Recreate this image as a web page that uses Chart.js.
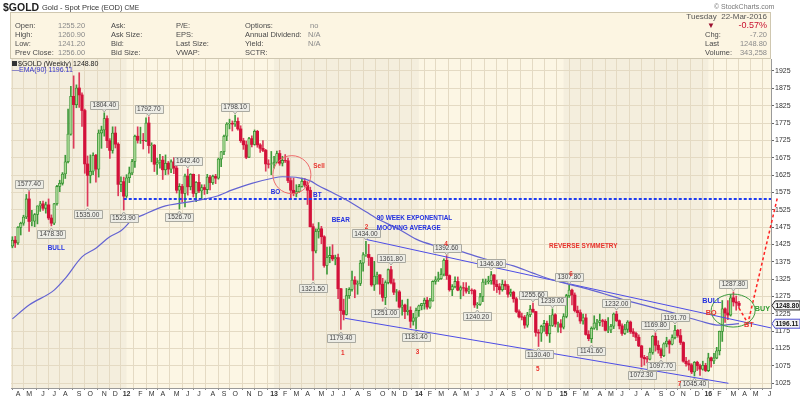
<!DOCTYPE html>
<html>
<head>
<meta charset="utf-8">
<script src="https://cdn.jsdelivr.net/npm/chart.js@4.4.1/dist/chart.umd.min.js"></script>
<style>
  html, body { margin: 0; padding: 0; background: #fff; }
  body { width: 800px; height: 399px; position: relative; overflow: hidden; font-family: "Liberation Sans", Arial, sans-serif; }
  #wrap { position: absolute; left: 0; top: 0; width: 800px; height: 399px; }
  .t { position: absolute; white-space: nowrap; font-size: 7.5px; line-height: 9px; color: #4a4a4a; }
  .v { color: #8a8a8a; }
  .r { text-align: right; }
  #hdr { position: absolute; left: 10px; top: 12px; width: 759px; height: 45px; background: #fcf5e2; border: 1px solid #cfc7b0; }
  .lg { position: absolute; white-space: nowrap; font-size: 7px; line-height: 8px; }
</style>
</head>
<body>
<div id="wrap"><canvas id="goldChart" width="800" height="399"></canvas></div>

<div id="hdr"></div>
<div class="t" style="left:3px;top:1px;font-size:10.5px;line-height:12px;font-weight:bold;color:#222">$GOLD</div>
<div class="t" style="left:42px;top:3px;color:#333">Gold - Spot Price (EOD) <span style="font-size:6.5px">CME</span></div>
<div class="t" style="left:714px;top:2px;font-size:7px;color:#777">&copy; StockCharts.com</div>

<div class="t" style="left:15px;top:21px">Open:</div>
<div class="t" style="left:15px;top:30px">High:</div>
<div class="t" style="left:15px;top:39px">Low:</div>
<div class="t" style="left:15px;top:48px">Prev Close:</div>
<div class="t v" style="left:58px;top:21px">1255.20</div>
<div class="t v" style="left:58px;top:30px">1260.90</div>
<div class="t v" style="left:58px;top:39px">1241.20</div>
<div class="t v" style="left:58px;top:48px">1256.00</div>
<div class="t" style="left:111px;top:21px">Ask:</div>
<div class="t" style="left:111px;top:30px">Ask Size:</div>
<div class="t" style="left:111px;top:39px">Bid:</div>
<div class="t" style="left:111px;top:48px">Bid Size:</div>
<div class="t" style="left:176px;top:21px">P/E:</div>
<div class="t" style="left:176px;top:30px">EPS:</div>
<div class="t" style="left:176px;top:39px">Last Size:</div>
<div class="t" style="left:176px;top:48px">VWAP:</div>
<div class="t" style="left:245px;top:21px">Options:</div>
<div class="t" style="left:245px;top:30px">Annual Dividend:</div>
<div class="t" style="left:245px;top:39px">Yield:</div>
<div class="t" style="left:245px;top:48px">SCTR:</div>
<div class="t v" style="left:310px;top:21px">no</div>
<div class="t v" style="left:308px;top:30px">N/A</div>
<div class="t v" style="left:308px;top:39px">N/A</div>

<div class="t r" style="right:33px;top:12px;font-size:8px;color:#555">Tuesday&nbsp;&nbsp;22-Mar-2016</div>
<div class="t" style="left:707px;top:21px;font-size:8px;color:#9b1030">&#9660;</div>
<div class="t r" style="right:33px;top:20px;font-size:9px;line-height:11px;color:#c8102e">-0.57%</div>
<div class="t" style="left:705px;top:30px">Chg:</div>
<div class="t r v" style="right:33px;top:30px">-7.20</div>
<div class="t" style="left:705px;top:39px">Last</div>
<div class="t r v" style="right:33px;top:39px">1248.80</div>
<div class="t" style="left:705px;top:48px">Volume:</div>
<div class="t r v" style="right:33px;top:48px">343,258</div>

<div class="lg" style="left:12px;top:60px;color:#222"><span style="display:inline-block;width:5px;height:5px;background:#333;margin-right:1px"></span>$GOLD (Weekly) 1248.80</div>
<div class="lg" style="left:12px;top:66px;color:#3434c8">&#8212;EMA(90) 1196.11</div>

<script>
// Semaines : index 0 = semaine du lundi 21 mars 2011 (cours au 25 mars)
const firstMonday = new Date(2011, 2, 21);
const totalWeeks = 273; // 262 semaines de données + espace vide à droite
const monthLetters = ['J', 'F', 'M', 'A', 'M', 'J', 'J', 'A', 'S', 'O', 'N', 'D'];

// Prix hebdomadaires $GOLD
const opens = [
  1420,1437,1429,1474,1486,1504,1556,1491,1492,1511,
  1536,1542,1529,1539,1501,1486,1542,1592,1601,1628,
  1663,1743,1852,1828,1876,1856,1811,1657,1624,1636,
  1682,1642,1746,1755,1788,1724,1696,1746,1714,1598,
  1606,1564,1617,1631,1664,1737,1725,1725,1724,1775,
  1710,1711,1656,1662,1668,1640,1659,1642,1663,1645,
  1581,1592,1572,1622,1591,1627,1572,1604,1579,1589,
  1583,1619,1603,1621,1616,1671,1692,1737,1772,1774,
  1772,1780,1758,1724,1712,1676,1730,1713,1751,1712,
  1702,1696,1657,1656,1657,1662,1687,1659,1667,1666,
  1609,1581,1572,1577,1592,1607,1596,1581,1476,1406,
  1462,1470,1447,1364,1387,1393,1383,1387,1297,1234,
  1223,1277,1295,1322,1310,1312,1371,1395,1396,1387,
  1308,1333,1337,1310,1272,1315,1352,1314,1287,1288,
  1244,1250,1231,1235,1203,1213,1234,1248,1254,1264,
  1244,1262,1318,1323,1326,1339,1379,1335,1294,1303,
  1318,1293,1300,1299,1290,1293,1292,1250,1252,1274,
  1316,1317,1320,1337,1310,1303,1294,1310,1305,1281,
  1287,1268,1231,1216,1215,1192,1222,1238,1231,1171,
  1169,1189,1197,1167,1191,1222,1195,1196,1186,1217,
  1277,1293,1279,1234,1228,1204,1213,1165,1153,1183,
  1198,1200,1205,1203,1177,1178,1189,1224,1205,1190,
  1168,1180,1201,1173,1168,1157,1132,1099,1095,1094,
  1113,1160,1134,1121,1104,1138,1146,1137,1156,1177,
  1162,1142,1088,1081,1077,1057,1085,1075,1065,1076,
  1061,1098,1089,1097,1118,1174,1239,1227,1221,1271,
  1259,1255.2
];
const highs = [
  1447,1448,1476,1489,1509,1569,1577.4,1523,1514,1536,
  1549,1550,1547,1556,1510,1543,1595,1610,1632,1682,
  1815,1881,1911,1885,1920,1862,1815,1680,1683,1689,
  1685,1755,1766,1804.4,1796,1730,1764,1764,1718,1620,
  1619,1626,1648,1670,1740,1764,1763,1745,1790,1792.7,
  1718,1713,1674,1685,1679,1683,1664,1669,1675,1650,
  1600,1598,1628,1642.4,1629,1628,1606,1626,1597,1597,
  1627,1624,1625,1627,1674,1693,1740,1776,1786,1781,
  1798.1,1790,1767,1731,1723,1734,1738,1755,1754,1716,
  1724,1699,1669,1693,1679,1694,1696,1679,1684,1674,
  1617,1616,1597,1598,1616,1615,1606,1590,1484,1470,
  1488,1477,1450,1417,1418,1424,1394,1397,1298,1267,
  1298,1300,1348,1332,1320,1379,1401,1434,1425,1388,
  1376,1345,1338,1327,1320,1354,1361.8,1325,1295,1292,
  1264,1253,1267,1245,1226,1241,1250,1255,1270,1272,
  1269,1320,1332,1345,1355,1383,1392.6,1337,1309,1331,
  1331,1305,1315,1315,1305,1297,1295,1257,1284,1325,
  1325,1333,1346.8,1338,1322,1312,1322,1320,1310,1296,
  1290,1272,1236,1227,1220,1229,1249,1255.6,1232,1179,
  1192,1206,1204,1220,1239,1225,1201,1208,1225,1281,
  1307.8,1296,1285,1247,1236,1224,1224,1176,1187,1219,
  1209,1224,1209,1208,1214,1194,1227,1232,1207,1196,
  1194,1205,1204,1182,1172,1164,1134,1105,1102,1126,
  1162,1169.8,1147,1126,1141,1157,1150,1164,1191.7,1180,
  1180,1144,1099,1091,1081,1087,1088,1080,1088,1082,
  1111,1100,1111,1128,1175,1263,1242,1263,1280,1287.8,
  1276,1260.9
];
const lows = [
  1415,1416,1425,1452,1480,1499,1462,1478,1476,1484,
  1520,1523,1515,1496,1478.3,1482,1538,1577,1596,1615,
  1660,1740,1702,1819,1820,1765,1630,1535,1602,1626,
  1604,1619,1702,1737,1704,1673,1688,1703,1565,1577,
  1523.9,1560,1603,1626,1647,1717,1716,1700,1721,1688,
  1663,1635,1627,1645,1612,1626,1627,1632,1629,1573,
  1526.7,1547,1533,1567,1582,1562,1548,1574,1554,1569,
  1571,1582,1598,1600,1613,1649,1684,1724,1758,1752,
  1765,1754,1719,1699,1672,1676,1706,1711,1705,1690,
  1692,1636,1645,1626,1645,1660,1653,1651,1661,1603,
  1555,1565,1562,1575,1590,1590,1540,1475,1321.5,1400,
  1443,1427,1359,1339,1372,1378,1366,1268,1179.4,1207,
  1221,1269,1290,1271,1281,1306,1348,1390,1364,1304,
  1292,1310,1281,1261,1251,1311,1311,1280,1261,1241,
  1221,1211,1221,1185,1192,1181.4,1217,1236,1238,1238,
  1240,1261,1310,1318,1324,1334,1324,1290,1277,1299,
  1291,1268,1277,1284,1283,1282,1243,1240.2,1249,1260,
  1309,1311,1310,1292,1286,1281,1290,1294,1273,1275,
  1258,1228,1213,1207,1183,1186,1216,1228,1160,1130.4,
  1145,1174,1161,1142,1188,1187,1172,1170,1181,1213,
  1272,1250,1230,1216,1197,1195,1163,1147,1141.6,1180,
  1178,1190,1188,1175,1170,1170,1182,1202,1181,1162,
  1165,1171,1168,1159,1147,1130,1072.3,1077,1083,1092,
  1108,1117,1111,1097.7,1101,1129,1111,1135,1152,1157,
  1136,1085,1074,1062,1052,1045.4,1061,1047,1062,1058,
  1058,1071,1081,1095,1106,1145,1200,1208,1218,1247,
  1235,1241.2
];
const closes = [
  1437,1429,1474,1486,1504,1556,1491,1492,1511,1536,
  1542,1529,1539,1501,1486,1542,1592,1601,1628,1663,
  1743,1852,1828,1876,1856,1811,1657,1624,1636,1682,
  1642,1746,1755,1788,1724,1696,1746,1714,1598,1606,
  1564,1617,1631,1664,1737,1725,1725,1724,1775,1710,
  1711,1656,1662,1668,1640,1659,1642,1663,1645,1581,
  1592,1572,1622,1591,1627,1572,1604,1579,1589,1583,
  1619,1603,1621,1616,1671,1692,1737,1772,1774,1772,
  1780,1758,1724,1712,1676,1730,1713,1751,1712,1702,
  1696,1657,1656,1657,1662,1687,1659,1667,1666,1609,
  1581,1572,1577,1592,1607,1596,1581,1476,1406,1462,
  1470,1447,1364,1387,1393,1383,1387,1297,1234,1223,
  1277,1295,1322,1310,1312,1371,1395,1396,1387,1308,
  1333,1337,1310,1272,1315,1352,1314,1287,1288,1244,
  1250,1231,1235,1203,1213,1234,1248,1254,1264,1244,
  1262,1318,1323,1326,1339,1379,1335,1294,1303,1318,
  1293,1300,1299,1290,1293,1292,1250,1252,1274,1316,
  1317,1320,1337,1310,1303,1294,1310,1305,1281,1287,
  1268,1231,1216,1215,1192,1222,1238,1231,1171,1169,
  1189,1197,1167,1191,1222,1195,1196,1186,1217,1277,
  1293,1279,1234,1228,1204,1213,1165,1153,1183,1198,
  1200,1205,1203,1177,1178,1189,1224,1205,1190,1168,
  1180,1201,1173,1168,1157,1132,1099,1095,1094,1113,
  1160,1134,1121,1104,1138,1146,1137,1156,1177,1162,
  1142,1088,1081,1077,1057,1085,1075,1065,1076,1061,
  1098,1089,1097,1118,1174,1239,1227,1221,1271,1259,
  1256,1248.8
];

// EMA(90) (index de semaine, valeur)
const emaWeeks  = [0, 6, 15, 19, 25, 30, 35, 39, 43, 47, 55, 60, 63, 73, 79, 86, 93, 97, 103, 107, 110, 114, 120, 127, 132, 139, 145, 151, 160, 169, 180, 187, 193, 208, 222, 238, 247, 254, 261];
const emaValues = [1210, 1250, 1293, 1327, 1389, 1414, 1447, 1464, 1495, 1510, 1536, 1543, 1547, 1563, 1582, 1601, 1615, 1620, 1617, 1608, 1594, 1578, 1553, 1519, 1495, 1468, 1440, 1423, 1407, 1385, 1363, 1342, 1325, 1293, 1260, 1226, 1204, 1192, 1196.11];

// Lignes tracées à la main sur le graphique
const upperTrendWeeks = [126.6, 272.5];
const upperTrendPrices = [1440, 1184];
const lowerTrendWeeks = [119.5, 257.2];
const lowerTrendPrices = [1211.7, 1024.3];
const breakoutWeeks = [40, 272.5];
const breakoutPrices = [1556, 1556];
const projWeeks = [261, 264.2, 274.8];
const projPrices = [1241, 1197, 1560];

// Étiquettes de sommets / creux : index de semaine, 'h' = plus haut, 'l' = plus bas
const pivotWeeks = [6, 14, 27, 33, 40, 49, 60, 63, 80, 108, 118, 127, 134, 136, 145, 156, 167, 172, 187, 189, 194, 200, 208, 217, 226, 231, 233, 238, 245, 259];
const pivotSides = ['h','l','l','h','l','h','l','h','h','l','l','h','l','h','l','h','l','h','h','l','h','h','l','h','l','h','l','h','l','h'];

// Annotations texte : [texte, semaine, prix, couleur, resserrement]
const notes = [
  ['Sell', 108.1, 1652, '#e8322c', 0.8],
  ['BO', 92.8, 1577, '#2230e0', 0.8],
  ['BT', 108, 1569, '#2230e0', 0.8],
  ['BEAR', 114.7, 1495, '#2230e0', 0.8],
  ['90 WEEK EXPONENTIAL', 130.9, 1502, '#2230e0', 0.8],
  ['MOOVING AVERAGE', 130.9, 1473, '#2230e0', 0.8],
  ['2', 126.6, 1476, '#e8322c', 0.8],
  ['1', 118, 1112, '#e8322c', 0.8],
  ['3', 144.9, 1115, '#e8322c', 0.8],
  ['4', 155.1, 1428, '#e8322c', 0.8],
  ['5', 188.1, 1067, '#e8322c', 0.8],
  ['6', 200, 1339, '#e8322c', 0.8],
  ['7', 239, 1022, '#e8322c', 0.8],
  ['REVERSE SYMMETRY', 192.8, 1420, '#e8322c', 0.8],
  ['BULL', 12.7, 1416, '#2230e0', 0.8],
  ['BULL', 247.8, 1262, '#2230e0', 0.9],
  ['BO', 249.1, 1229, '#e8322c', 0.9],
  ['BT', 262.8, 1194, '#e8322c', 0.9],
  ['BUY', 266.7, 1238, '#2f9a2f', 0.9]
];

const yTickValues = [1025,1050,1075,1100,1125,1150,1175,1200,1225,1250,1275,1300,1325,1350,1375,1400,1425,1450,1475,1500,
  1525,1550,1575,1600,1625,1650,1675,1700,1725,1750,1775,1800,1825,1850,1875,1900,1925];

// Repères de mois : première semaine dont le lundi tombe dans un nouveau mois
const monthTicks = [];
const monthLabelAt = {};
const yearTicks = [];
for (let i = 1; i < totalWeeks; i++) {
    const d = new Date(firstMonday.getTime() + i * 7 * 86400000);
    const p = new Date(firstMonday.getTime() + (i - 1) * 7 * 86400000);
    if (d.getMonth() !== p.getMonth()) {
        monthTicks.push(i);
        if (d.getMonth() === 0) {
            monthLabelAt[i] = String(d.getFullYear()).slice(2);
            yearTicks.push(i);
        } else {
            monthLabelAt[i] = monthLetters[d.getMonth()];
        }
    }
}

const weekIdx = opens.map((_, i) => i);
const isUp = i => closes[i] >= opens[i];

// Fond du graphique : bandes alternées par année
const bandPlugin = {
    id: 'bands',
    beforeDraw(chart) {
        const { ctx, chartArea: a, scales: { x } } = chart;
        ctx.save();
        ctx.fillStyle = '#fcf6e4';
        ctx.fillRect(a.left, a.top, a.width, a.height);
        const edges = [x.min].concat(yearTicks, [x.max]);
        ctx.fillStyle = '#f4eedd';
        for (let k = 0; k < edges.length - 1; k += 2) {
            const x1 = x.getPixelForValue(edges[k]);
            const x2 = x.getPixelForValue(edges[k + 1]);
            ctx.fillRect(x1, a.top, x2 - x1, a.height);
        }
        ctx.restore();
    }
};

function drawCallout(ctx, x, yPt, text, below) {
    ctx.font = '6.5px "Liberation Sans", Arial, sans-serif';
    const w = Math.ceil(ctx.measureText(text).width) + 4;
    const h = 8;
    const cy = below ? yPt + 8 : yPt - 8;
    const bx = Math.round(x - w / 2) + 0.5;
    const by = Math.round(cy - h / 2) + 0.5;
    ctx.fillStyle = 'rgba(236,236,230,0.95)';
    ctx.strokeStyle = '#a9a9a0';
    ctx.lineWidth = 1;
    ctx.beginPath();
    ctx.rect(bx, by, w, h);
    ctx.fill();
    ctx.stroke();
    ctx.beginPath();
    if (below) {
        ctx.moveTo(x - 2, by); ctx.lineTo(x, by - 2.5); ctx.lineTo(x + 2, by);
    } else {
        ctx.moveTo(x - 2, by + h); ctx.lineTo(x, by + h + 2.5); ctx.lineTo(x + 2, by + h);
    }
    ctx.fill();
    ctx.stroke();
    ctx.fillStyle = '#444';
    ctx.textAlign = 'center';
    ctx.textBaseline = 'middle';
    ctx.fillText(text, x, cy + 0.5);
}

function axisTag(ctx, left, y, text, color) {
    const w = 28, h = 9;
    ctx.beginPath();
    ctx.moveTo(left, y);
    ctx.lineTo(left + 3, y - h / 2);
    ctx.lineTo(left + w, y - h / 2);
    ctx.lineTo(left + w, y + h / 2);
    ctx.lineTo(left + 3, y + h / 2);
    ctx.closePath();
    ctx.fillStyle = '#f3f3f3';
    ctx.fill();
    ctx.strokeStyle = color;
    ctx.lineWidth = 1;
    ctx.stroke();
    ctx.fillStyle = '#111';
    ctx.font = 'bold 6.5px "Liberation Sans", Arial, sans-serif';
    ctx.textAlign = 'left';
    ctx.textBaseline = 'middle';
    ctx.fillText(text, left + 3.5, y + 0.5);
}

// Annotations, cercles, étiquettes de prix
const notesPlugin = {
    id: 'notes',
    afterDraw(chart) {
        const { ctx, chartArea: a, scales: { x, y } } = chart;
        ctx.save();

        // cercles
        ctx.lineWidth = 1;
        ctx.strokeStyle = '#ee6a6a';
        ctx.beginPath();
        ctx.arc(x.getPixelForValue(100.4), y.getPixelForValue(1626), 19, 0, Math.PI * 2);
        ctx.stroke();
        ctx.strokeStyle = '#3d9a3d';
        ctx.beginPath();
        ctx.ellipse(x.getPixelForValue(258.9), y.getPixelForValue(1234), 22, 16.5, 0, 0, Math.PI * 2);
        ctx.stroke();

        // étiquettes sommets / creux
        pivotWeeks.forEach((w, k) => {
            const below = pivotSides[k] === 'l';
            const v = below ? lows[w] : highs[w];
            drawCallout(ctx, x.getPixelForValue(w), y.getPixelForValue(v), v.toFixed(2), below);
        });

        // textes (police resserrée comme l'original)
        ctx.font = 'bold 8px "Liberation Sans", Arial, sans-serif';
        ctx.textAlign = 'left';
        ctx.textBaseline = 'middle';
        notes.forEach(n => {
            const tx = x.getPixelForValue(n[1]);
            const ty = y.getPixelForValue(n[2]);
            ctx.save();
            ctx.translate(tx, ty);
            ctx.scale(n[4], 1);
            ctx.fillStyle = n[3];
            ctx.fillText(n[0], 0, 0);
            ctx.restore();
        });

        // dernières valeurs sur l'axe
        axisTag(ctx, a.right + 1, y.getPixelForValue(closes[closes.length - 1]), closes[closes.length - 1].toFixed(2), '#222');
        axisTag(ctx, a.right + 1, y.getPixelForValue(emaValues[emaValues.length - 1]), emaValues[emaValues.length - 1].toFixed(2), '#5050d0');
        ctx.restore();
    }
};

function lineSet(weeks, prices, color, width, dash, clip) {
    return {
        type: 'line',
        data: weeks.map((w, k) => ({ x: w, y: prices[k] })),
        borderColor: color,
        borderWidth: width,
        borderDash: dash,
        pointRadius: 0,
        fill: false,
        order: 0,
        clip: clip
    };
}

document.addEventListener('DOMContentLoaded', function() {
    const ctx = document.getElementById('goldChart').getContext('2d');
    Chart.defaults.font.family = '"Liberation Sans", Arial, sans-serif';

    new Chart(ctx, {
        type: 'bar',
        data: {
            datasets: [
                {
                    // mèches
                    data: weekIdx.map(i => ({ x: i, y: [lows[i], highs[i]] })),
                    barThickness: 1,
                    grouped: false,
                    borderWidth: 0,
                    borderSkipped: false,
                    backgroundColor: c => isUp(c.dataIndex) ? '#3f9a3a' : '#dc3a5a',
                    order: 2
                },
                {
                    // corps
                    data: weekIdx.map(i => ({ x: i, y: [opens[i], closes[i]] })),
                    barThickness: 2.6,
                    grouped: false,
                    borderSkipped: false,
                    borderWidth: c => isUp(c.dataIndex) ? 0.8 : 0,
                    borderColor: '#2f8f2a',
                    backgroundColor: c => isUp(c.dataIndex) ? '#a9d894' : '#d3113a',
                    order: 1
                },
                Object.assign(lineSet(emaWeeks, emaValues, '#6363d2', 1.2, [], true), { cubicInterpolationMode: 'monotone' }),
                lineSet(upperTrendWeeks, upperTrendPrices, '#4d4de6', 1, [], true),
                lineSet(lowerTrendWeeks, lowerTrendPrices, '#4d4de6', 1, [], true),
                lineSet(breakoutWeeks, breakoutPrices, '#1f3cf0', 2, [3, 2], true),
                lineSet(projWeeks, projPrices, '#ff2222', 1.5, [3, 2.5], false)
            ]
        },
        options: {
            responsive: false,
            animation: false,
            events: [],
            layout: { padding: { left: 11, top: 59, right: 0, bottom: 0 } },
            plugins: {
                legend: { display: false },
                tooltip: { enabled: false }
            },
            scales: {
                x: {
                    type: 'linear',
                    min: -0.5,
                    max: totalWeeks - 0.5,
                    offset: false,
                    afterBuildTicks: axis => { axis.ticks = monthTicks.map(v => ({ value: v })); },
                    afterFit: axis => { axis.height = 11; },
                    grid: { color: '#e4dac3', lineWidth: 1, tickLength: 2, tickColor: '#888' },
                    border: { color: '#9a9a9a' },
                    ticks: {
                        autoSkip: false,
                        maxRotation: 0,
                        padding: 0,
                        color: '#333',
                        font: c => ({ size: 7, weight: (c.tick && yearTicks.includes(c.tick.value)) ? 'bold' : 'normal' }),
                        callback: v => monthLabelAt[v] || ''
                    }
                },
                y: {
                    position: 'right',
                    min: 1010.7,
                    max: 1959.6,
                    afterBuildTicks: axis => { axis.ticks = yTickValues.map(v => ({ value: v })); },
                    afterFit: axis => { axis.width = 29; },
                    grid: { color: '#e4dac3', lineWidth: 1, tickLength: 3, tickColor: '#666' },
                    border: { color: '#9a9a9a' },
                    ticks: {
                        padding: 1,
                        color: '#333',
                        font: { size: 7 },
                        callback: v => String(v)
                    }
                }
            }
        },
        plugins: [bandPlugin, notesPlugin]
    });
});
</script>
</body>
</html>
